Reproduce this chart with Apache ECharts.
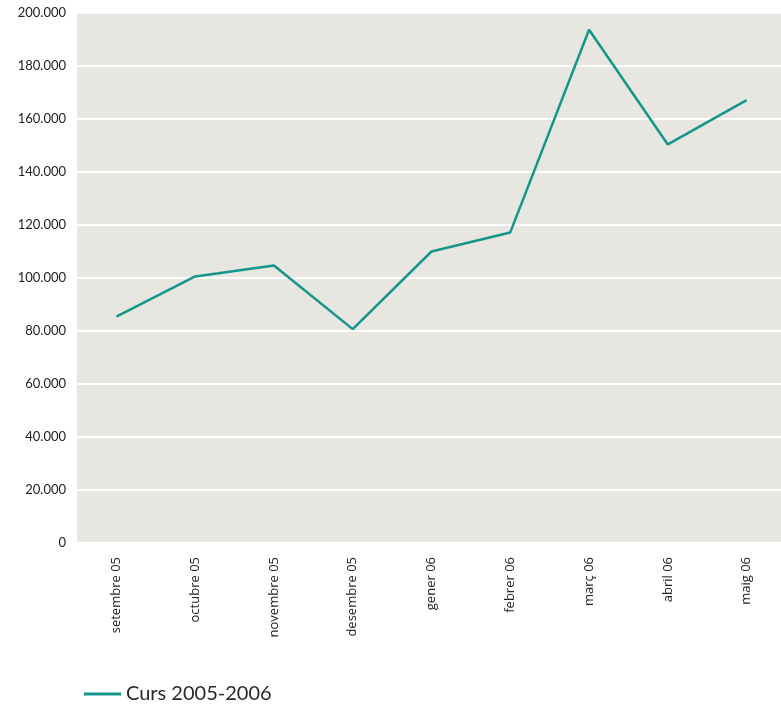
<!DOCTYPE html>
<html>
<head>
<meta charset="utf-8">
<script src="https://cdn.jsdelivr.net/npm/echarts@6/dist/echarts.min.js"></script>
<style>html,body{margin:0;padding:0;background:#fff}#c{width:781px;height:704px}</style>
</head>
<body>
<div id="c"></div>
<script>
const categories = ['setembre 05','octubre 05','novembre 05','desembre 05','gener 06','febrer 06','març 06','abril 06','maig 06'];
const values = [85400, 100600, 104700, 80700, 110000, 117200, 193700, 150400, 167100];
const seriesName = 'Curs 2005-2006';

const chart = echarts.init(document.getElementById('c'), null, {renderer:'canvas'});
chart.setOption({
  animation: false,
  backgroundColor: '#ffffff',
  textStyle: {fontFamily: 'Lato, "Open Sans", sans-serif'},
  grid: {left: 77, top: 13, right: -5, bottom: 161, outerBoundsMode: 'none', containLabel: false,
         show: true, backgroundColor: '#e8e6e1', borderWidth: 0},
  legend: {
    left: 79, top: 679, icon: 'rect', itemWidth: 37, itemHeight: 3, itemGap: 12,
    textStyle: {fontSize: 20, color: '#2a2a2a', fontFamily: 'Lato, "Open Sans", sans-serif'},
    data: [seriesName]
  },
  xAxis: {
    type: 'category', data: categories, boundaryGap: true,
    axisLine: {show: false}, axisTick: {show: false},
    axisLabel: {rotate: 90, margin: 14, fontSize: 13, color: '#222', interval: 0, fontFamily: '"Open Sans", sans-serif'}
  },
  yAxis: {
    type: 'value', min: 0, max: 200000, interval: 20000,
    axisLine: {show: false}, axisTick: {show: false},
    splitLine: {lineStyle: {color: '#ffffff', width: 2}},
    axisLabel: {margin: 11, fontSize: 13, color: '#222',
      formatter: v => v === 0 ? '0' : v.toLocaleString('de-DE')}
  },
  series: [{
    name: seriesName, type: 'line', data: values,
    symbol: 'none', lineStyle: {color: '#14968a', width: 2.5}, itemStyle: {color: '#14968a'}
  }]
});
</script>
</body>
</html>
